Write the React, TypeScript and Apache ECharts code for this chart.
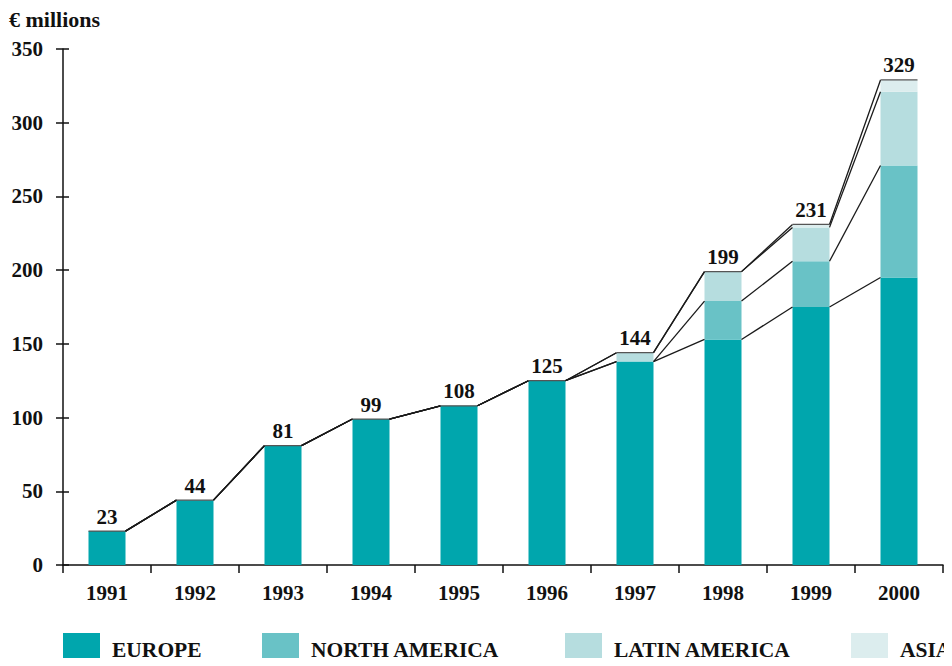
import React, { useEffect, useRef } from "react";
import * as echarts from "echarts";

const years = ["1991", "1992", "1993", "1994", "1995", "1996", "1997", "1998", "1999", "2000"];
const europe = [23, 44, 81, 99, 108, 125, 138, 153, 175, 195];
const northAmerica = [0, 0, 0, 0, 0, 0, 0, 26, 31, 76];
const latinAmerica = [0, 0, 0, 0, 0, 0, 6, 20, 23, 50];
const asia = [0, 0, 0, 0, 0, 0, 0, 0, 2, 8];
const totals = [23, 44, 81, 99, 108, 125, 144, 199, 231, 329];
const seriesNames = ["EUROPE", "NORTH AMERICA", "LATIN AMERICA", "ASIA"];
const seriesColors = ["#00a6ad", "#69c2c6", "#b6dddf", "#dcedee"];
const legendLefts = [63, 262, 565, 851];

const FONT = "Liberation Serif";

export default function App() {
  const ref = useRef<HTMLDivElement>(null);
  useEffect(() => {
    if (!ref.current) return;
    const chart = echarts.init(ref.current, null, { renderer: "svg" });
    const values = [europe, northAmerica, latinAmerica, asia];
    const levels = (j: number) => {
      const out: number[] = [];
      let s = 0;
      for (let k = 0; k < values.length; k++) {
        s += values[k][j];
        out.push(s);
      }
      return out;
    };
    const half = 18.5;
    const textStyle = { fontFamily: FONT, fontWeight: "bold" as const, fontSize: 21, color: "#111" };
    chart.setOption({
      animation: false,
      title: {
        text: "€ millions",
        left: 9,
        top: 8,
        padding: [0, 0, 0, 0],
        textStyle: { ...textStyle, fontSize: 22 },
      },
      grid: { left: 63, right: 9, top: 49, bottom: 101, containLabel: false },
      legend: seriesNames.map((n, i) => ({
        data: [n],
        left: legendLefts[i],
        top: 633,
        padding: 0,
        itemWidth: 37,
        itemHeight: 33,
        itemGap: 0,
        icon: "rect",
        selectedMode: false,
        textStyle: { ...textStyle, fontSize: 21.5, padding: [0, 0, 0, 7] },
      })),
      xAxis: {
        type: "category",
        data: years,
        axisLine: { lineStyle: { color: "#111", width: 1.5 } },
        axisTick: { show: true, length: 8, lineStyle: { color: "#111", width: 1.5 } },
        axisLabel: { ...textStyle, margin: 17 },
      },
      yAxis: [
        {
          type: "value",
          min: 0,
          max: 350,
          interval: 50,
          splitLine: { show: false },
          axisLine: { show: true, lineStyle: { color: "#111", width: 1.5 } },
          axisTick: { show: true, length: 7, lineStyle: { color: "#111", width: 1.5 } },
          axisLabel: { ...textStyle, margin: 20 },
        },
        {
          type: "value",
          position: "left",
          min: 0,
          max: 350,
          interval: 50,
          splitLine: { show: false },
          axisLine: { show: false },
          axisTick: { show: true, inside: true, length: 6, lineStyle: { color: "#111", width: 1.5 } },
          axisLabel: { show: false },
        },
      ],
      series: [
        ...seriesNames.map((n, k) => ({
          name: n,
          type: "bar",
          stack: "total",
          barWidth: 37,
          itemStyle: { color: seriesColors[k] },
          data: values[k],
          z: 2,
        })),
        {
          type: "custom",
          z: 5,
          clip: false,
          data: years.map((_, i) => [i, totals[i]]),
          renderItem: (params: any, api: any) => {
            const i = params.dataIndex;
            const children: any[] = [];
            const lineStyle = { stroke: "#1a1a1a", lineWidth: 1.3 };
            const top = api.coord([i, totals[i]]);
            children.push({
              type: "line",
              shape: { x1: top[0] - half, y1: top[1], x2: top[0] + half, y2: top[1] },
              style: { stroke: "#555", lineWidth: 1.2 },
            });
            if (i < years.length - 1) {
              const a = levels(i);
              const b = levels(i + 1);
              for (let k = 0; k < a.length; k++) {
                const p = api.coord([i, a[k]]);
                const q = api.coord([i + 1, b[k]]);
                children.push({
                  type: "line",
                  shape: { x1: p[0] + half, y1: p[1], x2: q[0] - half, y2: q[1] },
                  style: lineStyle,
                });
              }
            }
            children.push({
              type: "text",
              x: top[0],
              y: top[1] - 4,
              style: {
                text: String(totals[i]),
                textAlign: "center",
                textVerticalAlign: "bottom",
                font: `bold 21px "${FONT}"`,
                fill: "#111",
              },
            });
            return { type: "group", children };
          },
        },
      ],
    });
    return () => chart.dispose();
  }, []);
  return <div ref={ref} style={{ width: 952, height: 666, margin: -8 }} />;
}
